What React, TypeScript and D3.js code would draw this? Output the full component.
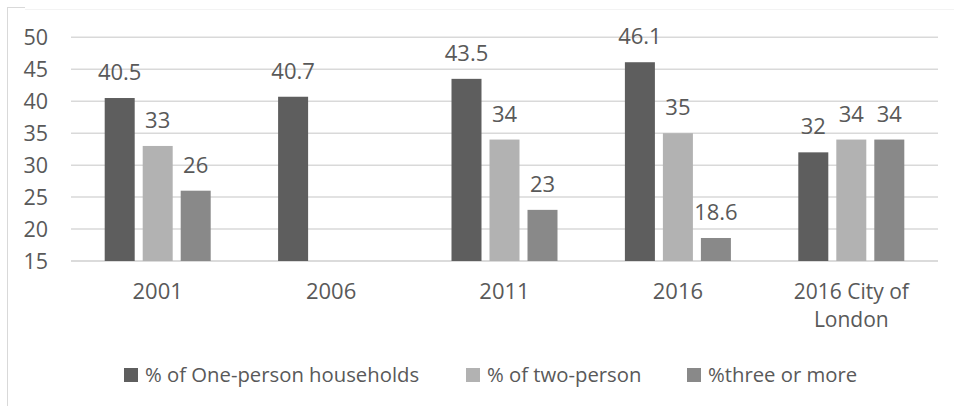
import React from "react";
import * as d3 from "d3";

const categories: string[][] = [["2001"], ["2006"], ["2011"], ["2016"], ["2016 City of", "London"]];
const seriesNames = ["% of One-person households", "% of two-person", "%three or more"];
const onePerson: (number | null)[] = [40.5, 40.7, 43.5, 46.1, 32];
const twoPerson: (number | null)[] = [33, null, 34, 35, 34];
const threeOrMore: (number | null)[] = [26, null, 23, 18.6, 34];
const yTicks = [15, 20, 25, 30, 35, 40, 45, 50];
const seriesColors = ["#5e5e5e", "#b2b2b2", "#898989"];

const W = 954;
const H = 406;
const FONT = "'Open Sans', 'Liberation Sans', sans-serif";
const TEXT = "#595959";

export default function App() {
  const seriesValues = [onePerson, twoPerson, threeOrMore];
  const catKeys = categories.map((c) => c.join(" "));

  const x0 = d3.scaleBand<string>().domain(catKeys).range([71, 938]);
  const groupWidth = 106;
  const x1 = d3
    .scaleBand<string>()
    .domain(seriesNames)
    .range([0, groupWidth])
    .paddingInner(8 / 38)
    .paddingOuter(0);
  const y = d3.scaleLinear().domain([15, 50]).range([261, 37.3]);

  return (
    <svg
      width={W}
      height={H}
      style={{ position: "absolute", left: 0, top: 0, background: "#fff" }}
      fontFamily={FONT}
    >
      {/* chart frame */}
      <line x1={7.5} y1={7} x2={7.5} y2={H} stroke="#d9d9d9" strokeWidth={1} />
      <line x1={7} y1={7.5} x2={25} y2={7.5} stroke="#d9d9d9" strokeWidth={1} />
      <line x1={25} y1={9.5} x2={W} y2={9.5} stroke="#f3f3f3" strokeWidth={1} />

      {/* gridlines and y tick labels */}
      {yTicks.map((t) => (
        <g key={t}>
          <line
            x1={71}
            x2={938}
            y1={y(t)}
            y2={y(t)}
            stroke={t === 15 ? "#cfcfcf" : "#d9d9d9"}
            strokeWidth={1.5}
          />
          <text
            x={48}
            y={y(t)}
            dy="0.36em"
            textAnchor="end"
            fontSize={21.5}
            fill={TEXT}
          >
            {t}
          </text>
        </g>
      ))}

      {/* bars and value labels */}
      {catKeys.map((ck, ci) => {
        const gx = (x0(ck) as number) + (x0.bandwidth() - groupWidth) / 2;
        return (
          <g key={ck} transform={`translate(${gx},0)`}>
            {seriesNames.map((s, si) => {
              const v = seriesValues[si][ci];
              if (v == null) return null;
              const bx = x1(s) as number;
              return (
                <g key={s}>
                  <rect
                    x={bx}
                    y={y(v)}
                    width={x1.bandwidth()}
                    height={y(15) - y(v)}
                    fill={seriesColors[si]}
                  />
                  <text
                    x={bx + x1.bandwidth() / 2}
                    y={y(v) - 18}
                    textAnchor="middle"
                    fontSize={22}
                    fill={TEXT}
                  >
                    {v}
                  </text>
                </g>
              );
            })}
          </g>
        );
      })}

      {/* category labels */}
      {categories.map((lines, ci) => {
        const cx = (x0(catKeys[ci]) as number) + x0.bandwidth() / 2;
        const size = lines.length > 1 ? 21 : 22;
        return (
          <text key={ci} x={cx} y={299} textAnchor="middle" fontSize={size} fill={TEXT}>
            {lines.map((ln, li) => (
              <tspan key={li} x={cx} dy={li === 0 ? 0 : 27.5}>
                {ln}
              </tspan>
            ))}
          </text>
        );
      })}

      {/* legend */}
      {(() => {
        const starts = [124, 466, 687];
        return seriesNames.map((s, si) => (
          <g key={s} transform={`translate(${starts[si]},368)`}>
            <rect x={0} y={0} width={14} height={14} fill={seriesColors[si]} />
            <text x={21} y={14} fontSize={20.3} fill={TEXT}>
              {s}
            </text>
          </g>
        ));
      })()}
    </svg>
  );
}
